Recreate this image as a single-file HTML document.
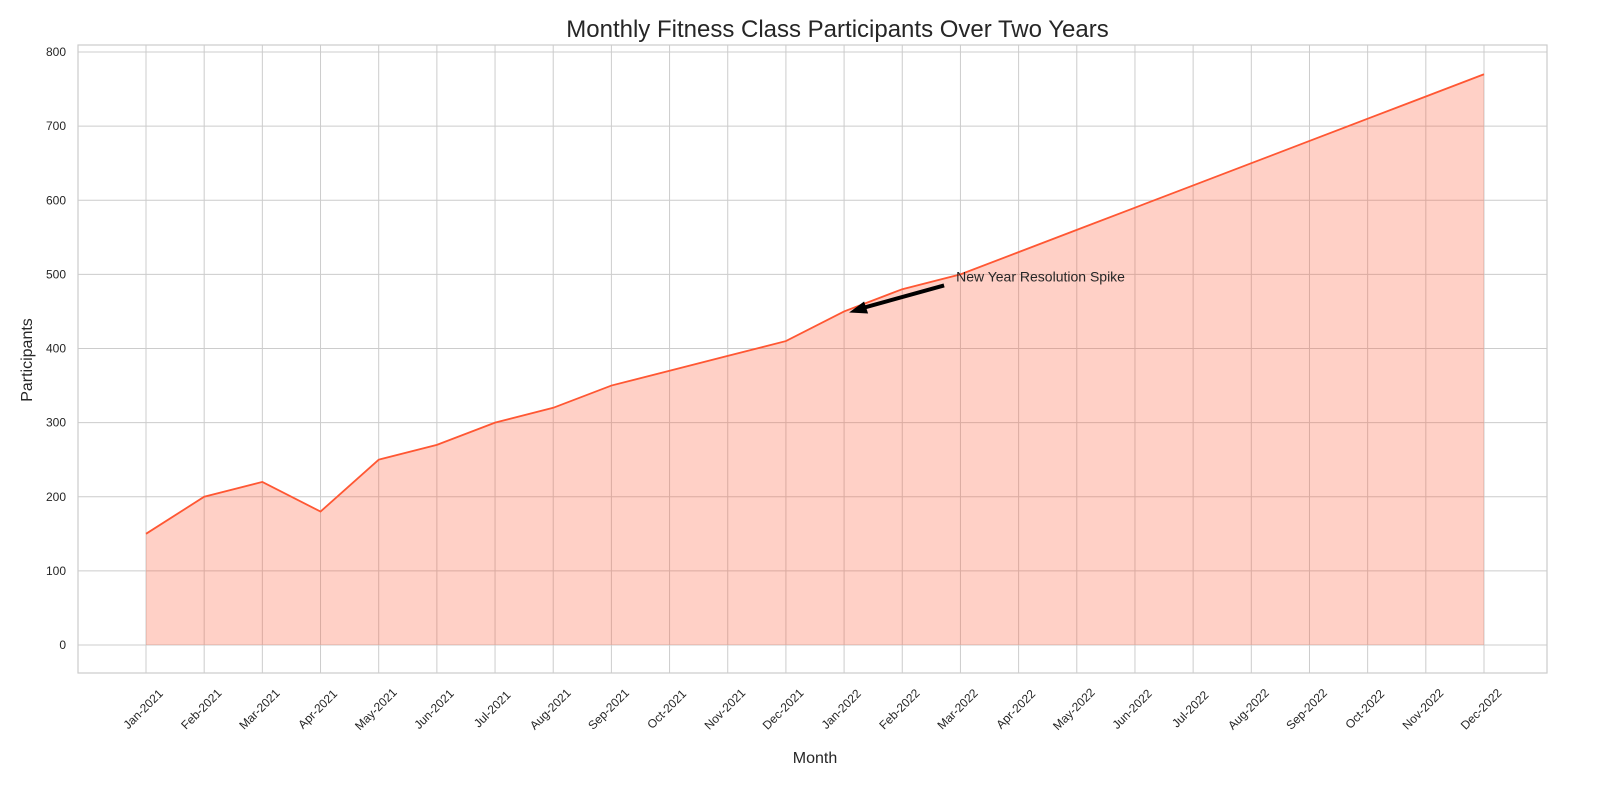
<!DOCTYPE html>
<html><head><meta charset="utf-8"><style>
body{margin:0;background:#fff;}
svg text{font-family:"Liberation Sans","DejaVu Sans",sans-serif;fill:#262626;}
</style></head><body>
<svg id="chart" width="1600" height="800">
<rect x="0" y="0" width="1600" height="800" fill="#fff"/>
<g id="grid"></g>
<g id="marks"></g>
<g id="axes"></g>
</svg>
<script>
const months=["Jan-2021","Feb-2021","Mar-2021","Apr-2021","May-2021","Jun-2021","Jul-2021","Aug-2021","Sep-2021","Oct-2021","Nov-2021","Dec-2021","Jan-2022","Feb-2022","Mar-2022","Apr-2022","May-2022","Jun-2022","Jul-2022","Aug-2022","Sep-2022","Oct-2022","Nov-2022","Dec-2022"];
const participants=[150,200,220,180,250,270,300,320,350,370,390,410,450,480,500,530,560,590,620,650,680,710,740,770];
const yTicks=[0,100,200,300,400,500,600,700,800];
const annotation={text:"New Year Resolution Spike",index:12};

const NS="http://www.w3.org/2000/svg";
const L=78,R=1547,T=45,B=673;
const x=i=>146+i*(1484-146)/(months.length-1);
const y=v=>645-v*(645-52)/800;
function mk(tag,attrs,parent,txt){const e=document.createElementNS(NS,tag);for(const k in attrs)e.setAttribute(k,attrs[k]);if(txt!==undefined)e.textContent=txt;parent.appendChild(e);return e;}
const grid=document.getElementById('grid'),marks=document.getElementById('marks'),axes=document.getElementById('axes'),svg=document.getElementById('chart');

yTicks.forEach(v=>{
  const l=mk('line',{x1:L,x2:R,y1:y(v),y2:y(v),stroke:'#cccccc','stroke-width':1},grid);
  
  
  const t=mk('text',{x:L-12,y:y(v)+4,'text-anchor':'end','font-size':12},axes,v);
  
  
});
months.forEach((m,i)=>{
  const l=mk('line',{x1:x(i),x2:x(i),y1:T,y2:B,stroke:'#cccccc','stroke-width':1},grid);
  
  
  const cx=x(i),cy=B+39;
  const t=mk('text',{x:cx,y:cy,'text-anchor':'middle','font-size':12,transform:`rotate(-45 ${cx} ${cy})`},axes,m);
  
  
});
const frame=mk('rect',{x:L,y:T,width:R-L,height:B-T,fill:'none',stroke:'#cccccc','stroke-width':1.2},axes);



let pts=participants.map((v,i)=>x(i)+','+y(v)).join(' ');
const area=mk('polygon',{points:x(0)+','+y(0)+' '+pts+' '+x(participants.length-1)+','+y(0),fill:'rgba(255,87,51,0.28)',stroke:'none'},marks);


const line=mk('polyline',{points:pts,fill:'none',stroke:'#ff5733','stroke-width':1.8},marks);



// annotation
const ax=x(annotation.index)+5,ay=y(participants[annotation.index])+1;
const tx=x(annotation.index)+110,ty=y(participants[annotation.index])-34;
const arr=mk('line',{x1:tx-10,y1:ty+8,x2:ax+12,y2:ay-4,stroke:'#000','stroke-width':4},marks);


const head=mk('polygon',{points:`${ax},${ay} ${ax+15},${ay-11} ${ax+19},${ay+1}`,fill:'#000'},marks);


const at=mk('text',{x:tx+2,y:ty+4,'font-size':14},marks,annotation.text);



const title=mk('text',{x:(L+R)/2+25,y:37,'text-anchor':'middle','font-size':24},svg,'Monthly Fitness Class Participants Over Two Years');


const xt=mk('text',{x:815,y:763,'text-anchor':'middle','font-size':16},svg,'Month');


const yt=mk('text',{x:32,y:360,'text-anchor':'middle','font-size':16,transform:'rotate(-90 32 360)'},svg,'Participants');


</script>
</body></html>
